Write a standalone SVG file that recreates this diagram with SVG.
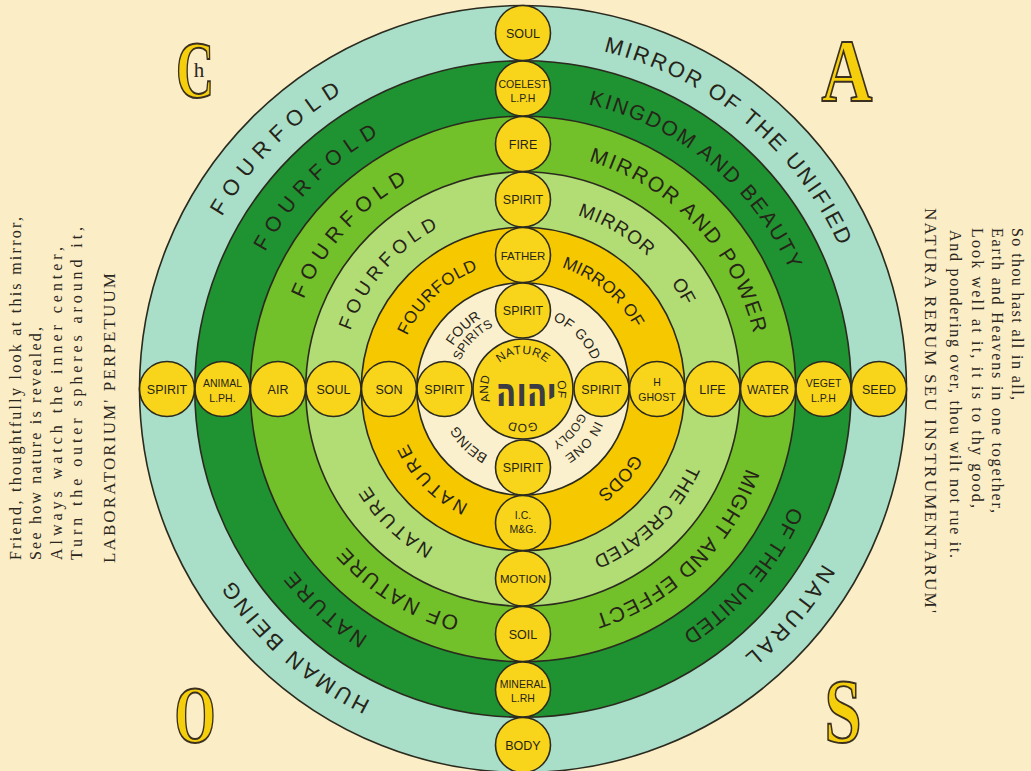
<svg xmlns="http://www.w3.org/2000/svg" width="1031" height="771" viewBox="0 0 1031 771">
<style>
.ring{stroke:#2b2a1e;stroke-width:1.6}
.rt{font-family:'Liberation Sans',Arial,sans-serif;fill:#262418;text-anchor:middle}
.sc{fill:#f8d51a;stroke:#2b2a1e;stroke-width:1.6}
.cl{font-family:'Liberation Sans',Arial,sans-serif;fill:#262418;text-anchor:middle;font-size:12.5px}
.cs{font-size:10.5px}
.side{font-family:'Liberation Serif','Times New Roman',serif;fill:#2a2620;font-size:16px}
.big{font-family:'Liberation Serif','Times New Roman',serif;font-weight:bold;fill:#f5cf0c;stroke:#3b3020;stroke-width:2;text-anchor:middle}
</style>
<defs>
<path id="p347" d="M523,42 A347,347 0 0 1 523,736 A347,347 0 0 1 523,42"/>
<path id="p292" d="M523,97 A292,292 0 0 1 523,681 A292,292 0 0 1 523,97"/>
<path id="p237" d="M523,152 A237,237 0 0 1 523,626 A237,237 0 0 1 523,152"/>
<path id="p182" d="M523,207 A182,182 0 0 1 523,571 A182,182 0 0 1 523,207"/>
<path id="p127" d="M523,261.5 A127.5,127.5 0 0 1 523,516.5 A127.5,127.5 0 0 1 523,261.5"/>
<path id="p82" d="M523,307 A82,82 0 0 1 523,471 A82,82 0 0 1 523,307"/>
<path id="p79" d="M523,310 A79,79 0 0 1 523,468 A79,79 0 0 1 523,310"/>
<path id="p75" d="M523,314 A75,75 0 0 1 523,464 A75,75 0 0 1 523,314"/>
<path id="p69" d="M523,320 A69,69 0 0 1 523,458 A69,69 0 0 1 523,320"/>
<path id="p61" d="M523,328 A61,61 0 0 1 523,450 A61,61 0 0 1 523,328"/>
<path id="p35" d="M498.25,413.75 A35,35 0 0 1 547.75,364.25 A35,35 0 0 1 498.25,413.75"/>
</defs>
<rect x="0" y="0" width="1031" height="771" fill="#fbedc6"/>

<g id="side-left">
<text class="side" transform="translate(21,560) rotate(-90)" textLength="343" lengthAdjust="spacing">Friend, thoughtfully look at this mirror,</text>
<text class="side" transform="translate(41,560) rotate(-90)" textLength="233" lengthAdjust="spacing">See how nature is revealed,</text>
<text class="side" transform="translate(62,560) rotate(-90)" textLength="313" lengthAdjust="spacing">Always watch the inner center,</text>
<text class="side" transform="translate(82,560) rotate(-90)" textLength="333" lengthAdjust="spacing">Turn the outer spheres around it,</text>
<text class="side" style="font-size:17px" transform="translate(115,563) rotate(-90)" textLength="290" lengthAdjust="spacing">LABORATORIUM' PERPETUUM</text>
</g>
<g id="side-right">
<text class="side" transform="translate(1012,228) rotate(90)" textLength="172" lengthAdjust="spacing">So thou hast all in all,</text>
<text class="side" transform="translate(992,228) rotate(90)" textLength="285" lengthAdjust="spacing">Earth and Heavens in one together,</text>
<text class="side" transform="translate(972,228) rotate(90)" textLength="280" lengthAdjust="spacing">Look well at it, it is to thy good,</text>
<text class="side" transform="translate(950,230) rotate(90)" textLength="328" lengthAdjust="spacing">And pondering over, thou wilt not rue it.</text>
<text class="side" style="font-size:17px" transform="translate(925,208) rotate(90)" textLength="405" lengthAdjust="spacing">NATURA RERUM SEU INSTRUMENTARUM'</text>
</g>

<g id="letter-c">
<text class="big" style="font-size:80px" transform="translate(195,97) scale(0.66,1)">C</text>
<text style="font-family:'Liberation Serif',serif;font-size:21px;fill:#2a2620;text-anchor:middle" x="199" y="77">h</text>
</g>
<g id="letter-a"><text class="big" style="font-size:88px" transform="translate(847,100) scale(0.8,1)">A</text></g>
<g id="letter-o"><text class="big" style="font-size:80px" transform="translate(195,742) scale(0.66,1)">O</text></g>
<g id="letter-s"><text class="big" style="font-size:90px" transform="translate(843,742) scale(0.74,1)">S</text></g>

<g id="ring-outer">
<circle class="ring" cx="523" cy="389" r="383.5" fill="#a9dec8"/>
<text class="rt" font-size="22" letter-spacing="7.5"><textPath href="#p347" startOffset="1905.3">FOURFOLD</textPath></text>
<text class="rt" font-size="22" letter-spacing="2.3"><textPath href="#p347" startOffset="240.4">MIRROR OF THE UNIFIED</textPath></text>
<text class="rt" font-size="22" letter-spacing="3.5"><textPath href="#p347" startOffset="790.4">NATURAL</textPath></text>
<text class="rt" font-size="22" letter-spacing="3"><textPath href="#p347" startOffset="1341.5">HUMAN BEING</textPath></text>
</g>
<g id="ring-dark">
<circle class="ring" cx="523" cy="389" r="328.25" fill="#1f9232"/>
<text class="rt" font-size="21" letter-spacing="7"><textPath href="#p292" startOffset="1603.8">FOURFOLD</textPath></text>
<text class="rt" font-size="21" letter-spacing="1.8"><textPath href="#p292" startOffset="201.8">KINGDOM AND BEAUTY</textPath></text>
<text class="rt" font-size="21" letter-spacing="0.7"><textPath href="#p292" startOffset="664.1">OF THE UNITED</textPath></text>
<text class="rt" font-size="21" letter-spacing="3"><textPath href="#p292" startOffset="1131.4">NATURE</textPath></text>
</g>
<g id="ring-medium">
<circle class="ring" cx="523" cy="389" r="272.75" fill="#72c02a"/>
<text class="rt" font-size="21" letter-spacing="6.2"><textPath href="#p237" startOffset="1290.6">FOURFOLD</textPath></text>
<text class="rt" font-size="21" letter-spacing="2"><textPath href="#p237" startOffset="192.3">MIRROR AND POWER</textPath></text>
<text class="rt" font-size="21" letter-spacing="1"><textPath href="#p237" startOffset="562.6">MIGHT AND EFFECT</textPath></text>
<text class="rt" font-size="21" letter-spacing="2"><textPath href="#p237" startOffset="876.9">OF NATURE</textPath></text>
</g>
<g id="ring-light">
<circle class="ring" cx="523" cy="389" r="217.25" fill="#b2dc74"/>
<text class="rt" font-size="19" letter-spacing="4.8"><textPath href="#p182" startOffset="987.9">FOURFOLD</textPath></text>
<text class="rt" font-size="19" letter-spacing="1"><textPath href="#p182" startOffset="96.9">MIRROR</textPath></text>
<text class="rt" font-size="19"><textPath href="#p182" startOffset="186.1">OF</textPath></text>
<text class="rt" font-size="19" letter-spacing="0.3"><textPath href="#p182" startOffset="432">THE CREATED</textPath></text>
<text class="rt" font-size="19" letter-spacing="2.8"><textPath href="#p182" startOffset="711.5">NATURE</textPath></text>
</g>
<g id="ring-yellow">
<circle class="ring" cx="523" cy="389" r="161.75" fill="#f5c800"/>
<text class="rt" font-size="17" letter-spacing="0.8"><textPath href="#p127" startOffset="705.4">FOURFOLD</textPath></text>
<text class="rt" font-size="17"><textPath href="#p127" startOffset="87.9">MIRROR OF</textPath></text>
<text class="rt" font-size="18"><textPath href="#p127" startOffset="294.8">GODS</textPath></text>
<text class="rt" font-size="18" letter-spacing="3"><textPath href="#p127" startOffset="501.8">NATURE</textPath></text>
</g>
<g id="ring-cream">
<circle class="ring" cx="523" cy="389" r="106.25" fill="#fbf0cd"/>
<text class="rt" font-size="14"><textPath href="#p82" startOffset="450.8">FOUR</textPath></text>
<text class="rt" font-size="12.5"><textPath href="#p69" startOffset="378">SPIRITS</textPath></text>
<text class="rt" font-size="14" letter-spacing="0.5"><textPath href="#p75" startOffset="59.6">OF GOD</textPath></text>
<text class="rt" font-size="13" letter-spacing="0.5"><textPath href="#p79" startOffset="180.6">IN ONE</textPath></text>
<text class="rt" font-size="12"><textPath href="#p61" startOffset="140.5">GODLY</textPath></text>
<text class="rt" font-size="14"><textPath href="#p75" startOffset="293.2">BEING</textPath></text>
</g>

<g id="node-center">
<circle class="sc" cx="523" cy="389" r="50" fill="#f7d30c"/>
<text class="rt" font-size="12" letter-spacing="0.5"><textPath href="#p35" startOffset="82.5">NATURE</textPath></text>
<text class="rt" font-size="12"><textPath href="#p35" startOffset="137.4">OF</textPath></text>
<text class="rt" font-size="12"><textPath href="#p35" startOffset="192.4">GOD</textPath></text>
<text class="rt" font-size="12"><textPath href="#p35" startOffset="27.5">AND</textPath></text>
<text transform="translate(526,406) scale(1,1.35)" style="font-family:'DejaVu Sans',sans-serif;font-weight:bold;font-size:30px;fill:#3c3c44;text-anchor:middle">יהוה</text>
</g>

<g id="node-top-spirit"><circle class="sc" cx="523" cy="310.5" r="27.5"/><text class="cl" x="523" y="315">SPIRIT</text></g>
<g id="node-father"><circle class="sc" cx="523" cy="255" r="27.5"/><text class="cl" style="font-size:11.5px" x="523" y="259.5">FATHER</text></g>
<g id="node-spirit-2"><circle class="sc" cx="523" cy="199.5" r="27.5"/><text class="cl" x="523" y="204">SPIRIT</text></g>
<g id="node-fire"><circle class="sc" cx="523" cy="144" r="27.5"/><text class="cl" x="523" y="148.5">FIRE</text></g>
<g id="node-coelest"><circle class="sc" cx="523" cy="88.5" r="27.5"/><text class="cl cs" x="523" y="87.5">COELEST</text><text class="cl cs" x="523" y="102">L.P.H</text></g>
<g id="node-soul-top"><circle class="sc" cx="523" cy="33" r="27.5"/><text class="cl" x="523" y="37.5">SOUL</text></g>

<g id="node-bottom-spirit"><circle class="sc" cx="523" cy="467.5" r="27.5"/><text class="cl" x="523" y="472">SPIRIT</text></g>
<g id="node-ic"><circle class="sc" cx="523" cy="523" r="27.5"/><text class="cl cs" x="523" y="519">I.C.</text><text class="cl cs" x="523" y="533">M&amp;G.</text></g>
<g id="node-motion"><circle class="sc" cx="523" cy="578.5" r="27.5"/><text class="cl" style="font-size:11.5px" x="523" y="583">MOTION</text></g>
<g id="node-soil"><circle class="sc" cx="523" cy="634" r="27.5"/><text class="cl" x="523" y="638.5">SOIL</text></g>
<g id="node-mineral"><circle class="sc" cx="523" cy="689.5" r="27.5"/><text class="cl cs" x="523" y="687.5">MINERAL</text><text class="cl cs" x="523" y="702">L.RH</text></g>
<g id="node-body"><circle class="sc" cx="523" cy="745" r="27.5"/><text class="cl" x="523" y="749.5">BODY</text></g>

<g id="node-left-spirit"><circle class="sc" cx="444.5" cy="389" r="27.5"/><text class="cl" x="444.5" y="393.5">SPIRIT</text></g>
<g id="node-son"><circle class="sc" cx="389" cy="389" r="27.5"/><text class="cl" x="389" y="393.5">SON</text></g>
<g id="node-soul-left"><circle class="sc" cx="333.5" cy="389" r="27.5"/><text class="cl" x="333.5" y="393.5">SOUL</text></g>
<g id="node-air"><circle class="sc" cx="278" cy="389" r="27.5"/><text class="cl" x="278" y="393.5">AIR</text></g>
<g id="node-animal"><circle class="sc" cx="222.5" cy="389" r="27.5"/><text class="cl cs" x="222.5" y="387">ANIMAL</text><text class="cl cs" x="222.5" y="401.5">L.PH.</text></g>
<g id="node-spirit-left-outer"><circle class="sc" cx="167" cy="389" r="27.5"/><text class="cl" x="167" y="393.5">SPIRIT</text></g>

<g id="node-right-spirit"><circle class="sc" cx="601.5" cy="389" r="27.5"/><text class="cl" x="601.5" y="393.5">SPIRIT</text></g>
<g id="node-ghost"><circle class="sc" cx="657" cy="389" r="27.5"/><text class="cl cs" x="657" y="386">H</text><text class="cl cs" x="657" y="400.5">GHOST</text></g>
<g id="node-life"><circle class="sc" cx="712.5" cy="389" r="27.5"/><text class="cl" x="712.5" y="393.5">LIFE</text></g>
<g id="node-water"><circle class="sc" cx="768" cy="389" r="27.5"/><text class="cl" style="font-size:12px" x="768" y="393.5">WATER</text></g>
<g id="node-veget"><circle class="sc" cx="823.5" cy="389" r="27.5"/><text class="cl cs" x="823.5" y="387">VEGET</text><text class="cl cs" x="823.5" y="401.5">L.P.H</text></g>
<g id="node-seed"><circle class="sc" cx="879" cy="389" r="27.5"/><text class="cl" x="879" y="393.5">SEED</text></g>
</svg>
